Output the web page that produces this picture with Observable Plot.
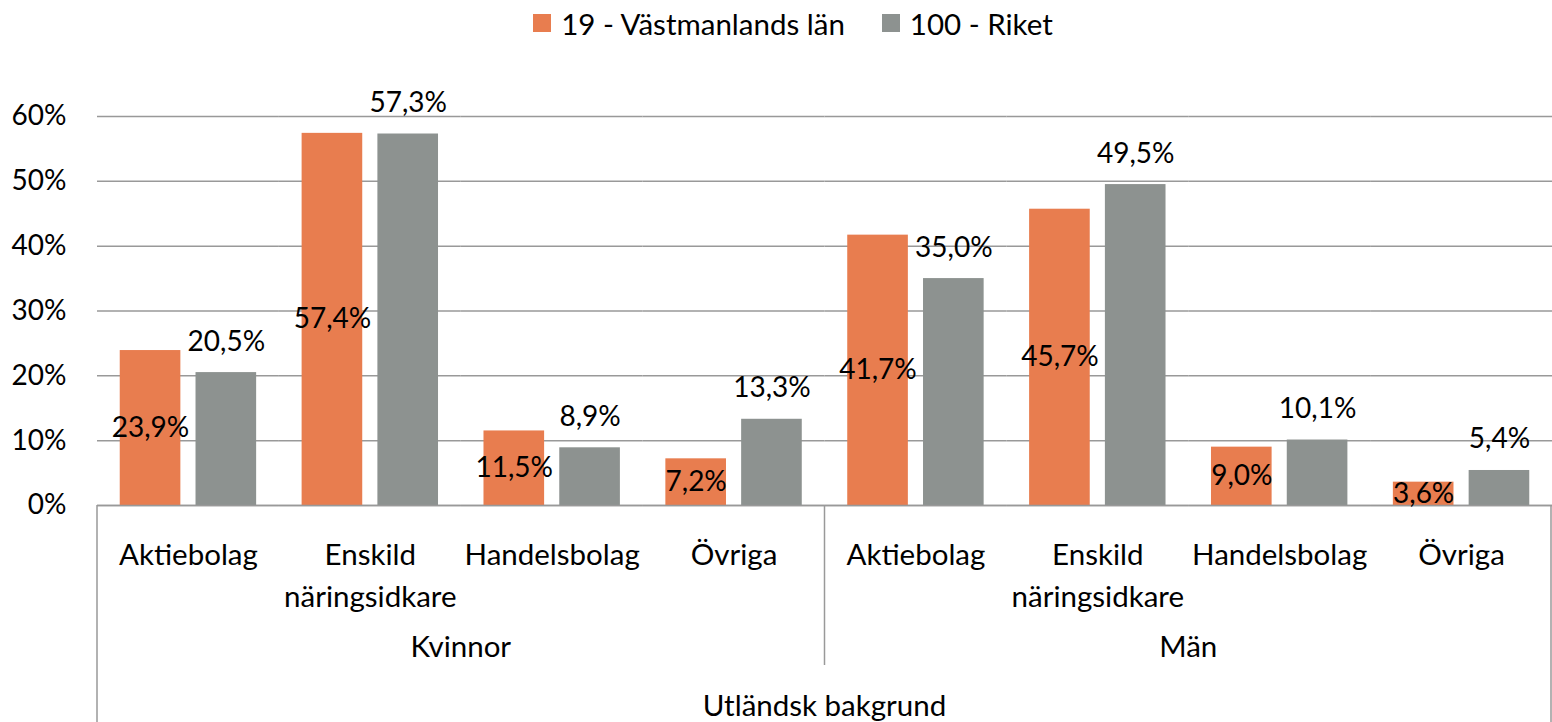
<!DOCTYPE html>
<html>
<head>
<meta charset="utf-8">
<script src="https://cdn.jsdelivr.net/npm/d3@7"></script>
<script src="https://cdn.jsdelivr.net/npm/@observablehq/plot@0.6"></script>
<style>
  html, body { margin: 0; padding: 0; background: #fff; }
  #wrap { position: relative; width: 1552px; height: 722px; font-family: Lato, sans-serif; overflow: hidden; }
  #legend { position: absolute; top: 0; left: 0; width: 1552px; height: 46px; box-sizing: border-box; padding-left: 34px;
            display: flex; justify-content: center; align-items: center; gap: 37px; font-size: 29.5px; color: #000; }
  #legend .item { display: flex; align-items: center; gap: 10px; }
  #legend .sw { width: 18px; height: 18px; display: inline-block; }
  #chart { position: absolute; top: 0; left: 0; }
</style>
</head>
<body>
<div id="wrap">
  <div id="chart"></div>
  <div id="legend"></div>
</div>
<script>
// ---- data ----
const genders = ["Kvinnor", "Män"];
const categories = ["Aktiebolag", "Enskild näringsidkare", "Handelsbolag", "Övriga"];
const categoryLabels = ["Aktiebolag", "Enskild\nnäringsidkare", "Handelsbolag", "Övriga"];
const outerLabel = "Utländsk bakgrund";
const series = ["19 - Västmanlands län", "100 - Riket"];
const vastmanland = [23.9, 57.4, 11.5, 7.2, 41.7, 45.7, 9.0, 3.6];
const riket = [20.5, 57.3, 8.9, 13.3, 35.0, 49.5, 10.1, 5.4];
const yTicks = [0, 10, 20, 30, 40, 50, 60];
const colors = ["#E87D4F", "#8D9290"];

// ---- build tables ----
const groups = genders.flatMap(g => categories.map((c, ci) => ({key: g + "|" + c, gender: g, label: categoryLabels[ci]})));
const keys = groups.map(d => d.key);
const orangeData = groups.map((g, i) => ({key: g.key, series: series[0], value: vastmanland[i]}));
const grayData = groups.map((g, i) => ({key: g.key, series: series[1], value: riket[i]}));
const data = orangeData.concat(grayData);
const fmt = d => d.value.toFixed(1).replace(".", ",") + "%";

const chart = Plot.plot({
  width: 1552,
  height: 722,
  marginLeft: 97,
  marginRight: 0,
  marginTop: 116,
  marginBottom: 217,
  style: {fontFamily: "Lato, sans-serif", fontSize: "28px", color: "#000", background: "#fff", overflow: "visible"},
  fx: {domain: keys, padding: 0, round: false, axis: null},
  x: {domain: series, paddingInner: 0.2, paddingOuter: 0.3, round: false, axis: null},
  y: {domain: [0, 60], axis: null},
  color: {domain: series, range: colors},
  marks: [
    Plot.gridY(yTicks, {stroke: "#999", strokeOpacity: 1, strokeWidth: 1.5}),
    Plot.barY(data, {fx: "key", x: "series", y: "value", fill: "series"}),
    Plot.ruleY([0], {stroke: "#999", strokeWidth: 1.5}),
    Plot.axisY(yTicks, {label: null, tickSize: 0, tickPadding: 31, tickFormat: d => d + "%", fontSize: 28, fill: "#000"}),
    Plot.text(orangeData, {fx: "key", x: "series", y: d => d.value / 2, text: fmt, fill: "#000"}),
    Plot.text(grayData, {fx: "key", x: "series", y: "value", dy: -31, text: fmt, fill: "#000"}),
    Plot.text(groups, {fx: "key", text: "label", frameAnchor: "bottom", lineAnchor: "top", dy: 30, lineHeight: 1.42, fontSize: 29.5, fill: "#000"})
  ]
});
document.getElementById("chart").appendChild(chart);

// ---- multi-level category axis structure, positioned with Plot's fx scale ----
const fx = chart.scale("fx");
const bw = fx.bandwidth;
const svg = d3.select(chart);
const g = svg.append("g").attr("stroke", "#999").attr("stroke-width", 1.5);
const y0 = 505, yMid = 665, yEnd = 722;
const xLeft = fx.apply(keys[0]);
const xSplit = fx.apply(keys[4]);
const xRight = fx.apply(keys[7]) + bw - 1;
g.append("line").attr("x1", xLeft).attr("x2", xLeft).attr("y1", y0).attr("y2", yEnd);
g.append("line").attr("x1", xSplit).attr("x2", xSplit).attr("y1", y0).attr("y2", yMid);
g.append("line").attr("x1", xRight).attr("x2", xRight).attr("y1", y0).attr("y2", yEnd);

const t = svg.append("g").attr("font-family", "Lato, sans-serif").attr("font-size", 29.5).attr("fill", "#000").attr("text-anchor", "middle");
genders.forEach((gn, gi) => {
  const a = fx.apply(keys[gi * 4]);
  const b = fx.apply(keys[gi * 4 + 3]) + bw;
  t.append("text").attr("x", (a + b) / 2).attr("y", 646).attr("dy", "0.36em").text(gn);
});
t.append("text").attr("x", (xLeft + xRight + 1) / 2).attr("y", 705).attr("dy", "0.36em").text(outerLabel);

// ---- legend ----
const legend = d3.select("#legend");
series.forEach((s, i) => {
  const it = legend.append("div").attr("class", "item");
  it.append("span").attr("class", "sw").style("background", colors[i]);
  it.append("span").text(s);
});
</script>
</body>
</html>
